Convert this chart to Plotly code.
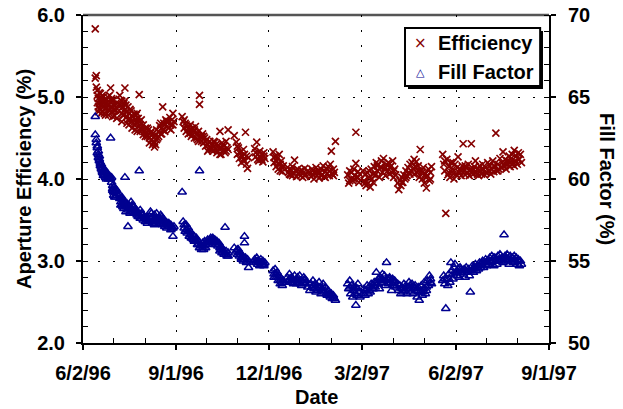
import pandas as pd
import plotly.graph_objects as go

start_date = "1996-06-02"

# Days since 6/2/96 for each measurement
day_offset = [
    12, 12, 13, 13, 14, 14, 15, 15, 16, 16, 17, 17, 18, 18, 19, 19, 20, 20, 21, 21,
    22, 23, 23, 24, 25, 26, 27, 27, 28, 29, 29, 30, 30, 31, 31, 32, 33,
    36, 36, 37, 38, 38, 39, 40, 40, 41, 41, 42, 43, 44, 44, 45, 46, 47, 47, 48, 49,
    50, 50, 51, 52, 53, 54, 55, 55, 56, 57,
    58, 59, 60, 61, 62, 63, 64, 65, 66, 67, 68, 69, 70, 70, 71, 72, 73, 74, 75, 76,
    77, 78, 78, 79, 80, 81, 82, 83, 84, 85, 86, 87, 88, 89,
    97, 98, 99, 100, 101, 102, 103, 104, 105, 106, 107, 108, 109, 110, 111, 112, 113,
    114, 114, 115, 116, 117, 118, 119, 120, 121, 122, 123, 124, 125, 126, 127, 128,
    129, 130, 131, 132, 133, 134, 134, 135, 136, 137, 138, 139, 140, 141, 142,
    148, 150, 151, 152, 153, 154, 155, 156, 157, 158, 158, 159, 160, 161, 162,
    168, 169, 170, 171, 172, 173, 174, 175, 176, 177, 178,
    186, 187, 188, 189, 190, 191, 192, 193, 194, 195, 196,
    200, 201, 202, 203, 204, 205, 206, 207, 208, 209, 210, 211, 212, 213, 214, 215,
    216, 217, 218, 220, 222, 223, 224, 225, 226, 227, 228, 229, 230, 231, 232, 233,
    234, 235, 236, 237, 238, 239, 240, 241, 242, 243, 244, 245, 246, 247,
    259, 260, 261, 262, 263, 264, 265, 266, 267, 267, 268, 269, 270, 271,
    274, 275, 276, 277, 278, 279, 280, 281, 282, 283, 284, 285, 286, 287, 288, 289,
    290, 291, 292, 293, 294, 295, 296, 297, 298, 299, 300, 301, 302, 303, 304, 305, 306,
    308, 309, 310, 311, 312, 313, 314, 315, 316, 317, 318, 319, 320, 321, 322, 323,
    324, 325, 326, 327, 328, 329, 330, 331, 332, 333, 334, 335, 336, 337, 338, 339,
    340, 341,
    352, 353, 354, 355, 356, 357, 358, 359, 360, 361, 362, 363, 364, 365, 366, 367,
    368, 369, 370, 371, 372, 373, 374, 375, 376, 377, 378, 379, 380, 381, 382, 383,
    384, 385, 386, 387, 388, 389, 390, 391, 392, 393, 394, 395, 396, 397, 398, 399,
    400, 401, 402, 403, 404, 405, 406, 407, 408, 409, 410, 411, 412, 413, 414, 415,
    416, 417, 418, 419, 420, 421, 422, 423, 424, 425, 426, 427, 428, 429,
    # second reading on the same days (dense parts of the bands)
    14, 15, 16, 17, 18, 19, 20, 21, 22, 24, 25, 26, 28, 29, 30, 31, 32, 33,
    37, 38, 39, 41, 42, 43, 45, 46, 48, 49, 51, 52, 53, 54, 56, 57,
    59, 61, 63, 65, 67, 68, 69, 71, 72, 74, 76, 77, 79, 80, 82, 84, 86, 88,
    99, 101, 103, 105, 107, 109, 111, 113, 116, 118, 120, 122, 124, 126, 128, 130, 132, 135, 137, 140, 142,
    151, 153, 155, 157, 160, 169, 171, 173, 175, 177,
    187, 189, 191, 193, 195, 202, 205, 209, 213, 217, 225, 229, 233, 237, 241, 245,
    261, 265, 269, 276, 280, 284, 288, 292, 296, 300, 304, 312, 316, 320, 324, 328, 332, 336, 340,
    354, 358, 362, 366, 370, 374, 378, 382, 386, 390, 394, 398, 402, 406, 410, 414, 418, 422, 426,
]

efficiency = [
    5.83, 5.23, 5.26, 5.12, 5.02, 4.93, 4.98, 4.88, 5.05, 4.92, 4.95, 4.85, 4.99, 4.90, 4.94, 4.82, 5.00, 4.88, 4.95, 4.80,
    4.92, 4.97, 4.86, 4.90, 4.78, 5.02, 5.11, 4.93, 4.88, 4.82, 4.95, 4.91, 4.85, 4.77, 4.89, 4.84, 4.74,
    5.02, 4.90, 4.86, 4.95, 4.80, 4.88, 4.92, 4.78, 5.11, 4.85, 4.82, 4.76, 4.88, 4.72, 4.80, 4.74, 4.83, 4.70, 4.77, 4.68,
    4.79, 4.66, 4.73, 4.69, 4.80, 4.64, 5.03, 4.70, 4.66, 4.62,
    4.60, 4.66, 4.58, 4.62, 4.55, 4.52, 4.60, 4.50, 4.56, 4.48, 4.55, 4.44, 4.39, 4.45, 4.53, 4.60, 4.50, 4.58, 4.65, 4.55,
    4.62, 4.88, 4.60, 4.68, 4.58, 4.72, 4.64, 4.70, 4.62, 4.75, 4.66, 4.72, 4.80, 4.70,
    4.76, 4.70, 4.62, 4.68, 4.58, 4.64, 4.55, 4.60, 4.66, 4.52, 4.62, 4.58, 4.50, 4.64, 4.55, 4.48, 4.58,
    5.02, 4.91, 4.52, 4.46, 4.55, 4.44, 4.50, 4.40, 4.48, 4.42, 4.36, 4.46, 4.38, 4.43, 4.34, 4.40,
    4.45, 4.36, 4.32, 4.41, 4.37, 4.58, 4.30, 4.38, 4.44, 4.35, 4.40, 4.32, 4.46, 4.38, 4.60,
    4.53, 4.45, 4.30, 4.38, 4.25, 4.33, 4.20, 4.28, 4.36, 4.22, 4.30, 4.57, 4.18, 4.13, 4.26,
    4.37, 4.27, 4.45, 4.30, 4.22, 4.34, 4.26, 4.30, 4.21, 4.32, 4.25,
    4.33, 4.20, 4.28, 4.15, 4.25, 4.18, 4.30, 4.10, 4.22, 4.09, 4.16,
    4.14, 4.08, 4.12, 4.05, 4.11, 4.15, 4.07, 4.23, 4.10, 4.03, 4.12, 4.06, 4.09, 4.04, 4.11, 4.02,
    4.08, 4.13, 4.05, 4.10, 4.07, 4.03, 4.12, 4.05, 4.00, 4.09, 4.14, 4.04, 4.10, 4.01, 4.08, 4.12,
    4.05, 4.16, 4.03, 4.09, 4.13, 4.07, 4.15, 4.10, 4.18, 4.34, 4.06, 4.12, 4.08, 4.46,
    4.05, 3.95, 4.10, 4.00, 4.08, 3.98, 4.12, 4.04, 4.57, 4.19, 4.02, 4.09, 3.96, 4.06,
    4.10, 3.98, 4.05, 3.92, 4.08, 3.95, 4.02, 3.90, 4.12, 4.00, 4.06, 4.15, 4.05, 4.20, 4.10, 4.18,
    4.02, 4.14, 4.22, 4.08, 4.25, 4.12, 4.04, 4.18, 4.10, 4.20, 4.06, 4.15, 4.08, 4.22, 4.02, 4.12, 4.05,
    3.95, 3.87, 3.98, 3.92, 4.02, 3.96, 4.05, 4.00, 4.10, 4.04, 4.14, 4.08, 4.18, 4.10, 4.20, 4.12,
    4.24, 4.15, 4.21, 4.08, 4.16, 4.02, 4.36, 4.10, 4.00, 4.14, 3.95, 4.06, 3.89, 4.04, 4.12, 3.98,
    4.08, 4.15,
    4.30, 4.18, 4.10, 3.58, 4.24, 4.05, 4.15, 4.02, 4.20, 4.08, 4.12, 4.00, 4.18, 4.06, 4.14, 4.27,
    4.08, 4.12, 4.04, 4.16, 4.43, 4.10, 4.05, 4.14, 4.08, 4.18, 4.04, 4.12, 4.43, 4.10, 4.06, 4.15,
    4.22, 4.08, 4.12, 4.04, 4.16, 4.10, 4.06, 4.18, 4.12, 4.05, 4.14, 4.08, 4.20, 4.10, 4.16, 4.06,
    4.12, 4.22, 4.09, 4.15, 4.56, 4.10, 4.18, 4.12, 4.25, 4.14, 4.20, 4.33, 4.16, 4.24, 4.12, 4.22,
    4.18, 4.28, 4.15, 4.25, 4.30, 4.20, 4.35, 4.22, 4.28, 4.18, 4.32, 4.24, 4.30, 4.20,
    # second reading on the same days
    5.08, 4.82, 4.86, 5.04, 4.80, 5.02, 4.94, 4.86, 4.78, 5.00, 4.92, 4.84, 4.98, 4.76, 4.97, 4.83, 4.92, 4.86,
    4.96, 4.70, 4.78, 4.95, 4.90, 4.68, 4.66, 4.85, 4.62, 4.76, 4.60, 4.78, 4.58, 4.74, 4.58, 4.72,
    4.54, 4.52, 4.62, 4.44, 4.58, 4.42, 4.50, 4.42, 4.48, 4.52, 4.68, 4.55, 4.60, 4.66, 4.70, 4.70, 4.60, 4.66,
    4.72, 4.66, 4.62, 4.56, 4.54, 4.60, 4.50, 4.46, 4.52, 4.52, 4.46, 4.34, 4.38, 4.36, 4.46, 4.42, 4.34, 4.30, 4.42, 4.34, 4.36,
    4.40, 4.32, 4.28, 4.24, 4.28, 4.32, 4.24, 4.28, 4.24, 4.28,
    4.26, 4.22, 4.12, 4.18, 4.14, 4.06, 4.04, 4.10, 4.09, 4.04, 4.10, 4.08, 4.04, 4.02, 4.04, 4.04,
    3.98, 4.00, 4.02, 3.95, 4.10, 3.96, 4.16, 4.14, 4.14, 4.14, 4.10, 3.96, 4.02, 4.06, 4.06, 4.10, 4.08, 4.02, 4.00,
    4.22, 4.08, 4.20, 4.04, 4.10, 4.16, 4.10, 4.12, 4.06, 4.12, 4.08, 4.10, 4.16, 4.10, 4.14, 4.18, 4.20, 4.16, 4.24,
]

fill_factor = [
    63.8, 62.7, 62.4, 62.2, 61.9, 61.6, 61.7, 61.3, 61.4, 61.1, 61.0, 60.8, 60.9, 60.6, 60.7, 60.5, 60.4, 60.3, 60.6, 60.2,
    60.4, 60.2, 60.0, 60.3, 60.1, 60.2, 62.5, 60.0, 60.1, 59.4, 59.6, 59.5, 59.2, 59.3, 58.9, 59.4, 59.1,
    59.0, 58.8, 58.6, 58.9, 58.4, 58.7, 58.5, 58.2, 60.1, 58.6, 58.3, 58.5, 57.1, 58.1, 58.4, 58.0, 58.6, 58.2, 58.4, 58.1,
    58.3, 57.9, 58.2, 57.9, 58.0, 57.7, 60.5, 57.8, 58.1, 57.6,
    57.8, 57.5, 57.7, 57.4, 57.6, 57.3, 57.5, 57.7, 58.0, 57.6, 57.3, 57.5, 57.2, 57.8, 57.5, 57.9, 57.4, 57.6, 57.3, 57.8,
    57.5, 57.2, 57.6, 57.3, 57.1, 57.4, 57.0, 57.3, 57.1, 57.2, 56.9, 57.0, 56.5, 57.1,
    59.2, 57.4, 57.0, 56.8, 57.2, 56.7, 57.0, 56.5, 56.8, 56.4, 56.6, 56.3, 56.5, 56.2, 56.4, 56.0, 56.2,
    60.5, 55.8, 56.0, 55.7, 56.1, 55.9, 56.2, 55.8, 56.1, 56.3, 56.0, 56.3, 56.4, 56.2, 56.4, 56.1,
    56.3, 56.0, 56.2, 55.9, 56.1, 55.8, 55.6, 55.9, 55.5, 55.7, 55.4, 57.05, 55.6, 55.3, 55.5,
    55.8, 55.6, 55.4, 55.7, 55.3, 55.5, 55.1, 55.3, 55.0, 56.5, 56.1, 55.2, 54.9, 55.1, 54.6,
    55.1, 54.9, 55.2, 54.8, 55.0, 54.7, 55.1, 54.8, 55.0, 54.7, 54.9,
    54.4, 54.2, 54.5, 54.0, 54.3, 53.8, 54.1, 53.6, 53.9, 53.5, 53.8,
    54.0, 53.8, 54.2, 53.7, 54.0, 53.9, 53.6, 54.1, 53.8, 53.6, 54.0, 53.7, 54.1, 53.8, 53.5, 53.7,
    54.0, 53.8, 53.6, 53.4, 53.2, 53.6, 53.4, 53.8, 53.3, 53.6, 53.1, 53.5, 53.2, 53.7, 53.4, 53.0,
    53.3, 53.6, 53.1, 53.4, 53.0, 52.9, 53.2, 53.0, 52.8, 53.0, 52.7, 52.9, 52.7, 52.6,
    53.6, 53.3, 53.8, 53.0, 53.5, 52.8, 53.2, 53.0, 52.3, 53.4, 52.9, 53.6, 53.1, 52.8,
    53.0, 53.3, 52.9, 53.2, 53.5, 53.0, 53.4, 53.1, 53.6, 53.3, 53.5, 53.7, 53.4, 54.3, 53.6, 53.9,
    53.3, 54.0, 53.7, 54.2, 53.8, 54.1, 53.5, 54.9, 53.9, 53.6, 54.0, 53.7, 53.2, 53.9, 53.5, 53.8, 53.4,
    53.6, 53.2, 53.5, 53.0, 53.4, 53.1, 53.6, 53.2, 53.5, 53.0, 53.4, 53.7, 53.3, 53.1, 53.6, 53.0,
    53.3, 53.5, 53.2, 52.8, 53.4, 52.6, 53.1, 53.5, 52.9, 53.3, 53.7, 53.0, 53.4, 53.8, 53.5, 54.1,
    53.9, 53.6,
    53.8, 54.1, 53.6, 52.1, 53.9, 53.5, 54.2, 53.7, 54.9, 54.4, 53.9, 54.6, 54.8, 54.3, 54.1, 54.5,
    54.0, 54.6, 54.3, 54.4, 54.2, 54.5, 54.0, 54.6, 54.3, 54.5, 54.1, 53.1, 54.4, 54.7, 54.3, 54.6,
    54.8, 54.4, 54.7, 54.5, 54.9, 54.6, 54.8, 55.0, 54.6, 54.9, 55.1, 54.7, 55.0, 54.8, 55.2, 54.9,
    55.3, 55.0, 54.7, 55.2, 55.0, 54.8, 55.3, 55.1, 55.4, 55.0, 55.2, 54.9, 56.6, 55.3, 55.0, 55.4,
    55.1, 54.8, 55.3, 55.0, 55.2, 54.9, 55.3, 55.0, 55.2, 54.8, 55.1, 54.7, 55.0, 54.8,
    # second reading on the same days
    62.0, 61.5, 61.2, 60.9, 60.7, 60.4, 60.2, 60.5, 60.1, 60.2, 60.0, 60.1, 59.8, 59.3, 59.0, 59.2, 58.9, 59.3,
    58.4, 58.8, 58.3, 58.4, 58.0, 58.3, 58.2, 57.9, 58.0, 58.3, 58.0, 58.1, 57.8, 57.9, 57.6, 57.9,
    57.8, 57.6, 57.5, 57.4, 57.9, 57.7, 57.3, 57.3, 57.6, 57.4, 57.5, 57.7, 57.5, 57.2, 57.2, 57.3, 57.2, 57.0,
    57.2, 56.9, 56.8, 56.6, 56.4, 56.2, 56.2, 56.0, 55.9, 55.7, 56.0, 56.1, 56.2, 56.3, 56.3, 56.2, 56.0, 55.7, 55.6, 55.4, 55.3,
    55.7, 55.5, 55.2, 55.1, 55.0, 55.0, 55.0, 54.9, 54.9, 54.8,
    54.0, 54.2, 54.0, 53.8, 53.7, 53.9, 53.7, 53.9, 53.6, 53.9, 53.5, 53.3, 53.2, 53.2, 52.9, 52.8,
    53.4, 53.4, 53.3, 53.2, 53.2, 53.3, 53.8, 53.9, 53.8, 53.9, 53.7, 53.3, 53.3, 53.5, 53.4, 53.2, 53.1, 53.2, 53.7,
    53.9, 53.9, 54.2, 54.3, 54.5, 54.4, 54.4, 54.5, 54.6, 54.9, 54.9, 55.0, 55.2, 55.0, 55.1, 55.2, 55.1, 55.1, 55.0,
]

x_tick_vals = ["1996-06-02", "1996-09-01", "1996-12-01", "1997-03-02", "1997-06-02", "1997-09-01"]
x_tick_text = ["6/2/96", "9/1/96", "12/1/96", "3/2/97", "6/2/97", "9/1/97"]
x_minor_vals = ["1996-07-02", "1996-08-02", "1996-10-01", "1996-10-31", "1996-12-31",
                "1997-01-31", "1997-04-02", "1997-05-02", "1997-07-02", "1997-08-01"]
eff_ticks = [2.0, 3.0, 4.0, 5.0, 6.0]
ff_ticks = [50, 55, 60, 65, 70]
series_names = ["Efficiency", "Fill Factor"]

dates = pd.to_datetime(start_date) + pd.to_timedelta(day_offset, unit="D")

RED = "#850000"
BLUE = "#000090"
FONT = "Liberation Sans, Arial, sans-serif"

fig = go.Figure()
fig.add_trace(go.Scatter(
    x=dates, y=efficiency, mode="markers", name=series_names[0],
    marker=dict(symbol="x-thin-open", size=7, line=dict(color=RED, width=1.7), color=RED),
    yaxis="y", xaxis="x",
))
fig.add_trace(go.Scatter(
    x=dates, y=fill_factor, mode="markers", name=series_names[1],
    marker=dict(symbol="triangle-up-open", size=7.5, color=BLUE, line=dict(color=BLUE, width=1.5)),
    yaxis="y2", xaxis="x",
))

tickfont = dict(family=FONT, size=20, color="black", weight="bold")
grid_dash = "2px,13px"

fig.update_layout(
    width=623, height=409,
    margin=dict(l=83, r=74, t=15, b=66, autoexpand=False),
    paper_bgcolor="white", plot_bgcolor="white",
    font=dict(family=FONT, color="black"),
    showlegend=False,
    xaxis=dict(
        type="date", range=["1996-06-02", "1997-09-01"], automargin=False,
        tickmode="array", tickvals=x_tick_vals, ticktext=x_tick_text,
        ticks="outside", ticklen=5, tickwidth=1.5, tickcolor="black",
        showline=True, linecolor="black", linewidth=2,
        showgrid=True, gridcolor="black", gridwidth=1, griddash=grid_dash,
        tickfont=tickfont, ticklabelstandoff=6,
        minor=dict(tickmode="array", tickvals=x_minor_vals, ticks="inside", ticklen=5,
                   tickwidth=1.2, tickcolor="black", showgrid=False),
        zeroline=False,
    ),
    yaxis=dict(
        range=[2.0, 6.0], tickmode="array", tickvals=eff_ticks, automargin=False,
        ticktext=[f"{v:.1f}" for v in eff_ticks],
        ticks="outside", ticklen=5, tickwidth=1.5, tickcolor="black",
        showline=True, linecolor="black", linewidth=2,
        showgrid=True, gridcolor="black", gridwidth=1, griddash=grid_dash,
        tickfont=tickfont, ticklabelstandoff=7,
        minor=dict(dtick=0.2, ticks="inside", ticklen=5, tickwidth=1.2, tickcolor="black", showgrid=False),
        zeroline=False,
    ),
    yaxis2=dict(
        range=[50, 70], overlaying="y", side="right", anchor="x", automargin=False,
        tickmode="array", tickvals=ff_ticks,
        ticks="outside", ticklen=5, tickwidth=1.5, tickcolor="black",
        showline=True, linecolor="black", linewidth=2,
        showgrid=False, tickfont=tickfont, ticklabelstandoff=8,
        minor=dict(dtick=1, ticks="inside", ticklen=5, tickwidth=1.2, tickcolor="black", showgrid=False),
        zeroline=False,
    ),
)

# top frame line
fig.add_shape(type="line", xref="paper", yref="paper", x0=0, x1=1, y0=1, y1=1,
              line=dict(color="#555555", width=2.5), layer="below")

# Legend box (with drop shadow), drawn as shapes + text
fig.add_shape(type="rect", xref="paper", yref="paper",
              x0=0.6974, x1=0.9871, y0=0.7744, y1=0.9512,
              line=dict(width=0), fillcolor="black", layer="above")
fig.add_shape(type="rect", xref="paper", yref="paper",
              x0=0.691, x1=0.981, y0=0.7835, y1=0.9604,
              line=dict(color="black", width=2), fillcolor="white", layer="above")
fig.add_annotation(text="×", xref="paper", yref="paper", x=0.7253, y=0.9146,
                   xanchor="center", yanchor="middle", showarrow=False,
                   font=dict(family="DejaVu Sans", size=15, color=RED))
fig.add_annotation(text="△", xref="paper", yref="paper", x=0.7253, y=0.8235,
                   xanchor="center", yanchor="middle", showarrow=False,
                   font=dict(family="DejaVu Sans", size=11, color=BLUE, weight="bold"))
fig.add_annotation(text=f"<b>{series_names[0]}</b>", xref="paper", yref="paper",
                   x=0.757, y=0.9146, xanchor="left", yanchor="middle", showarrow=False,
                   font=dict(family=FONT, size=20, color="black"))
fig.add_annotation(text=f"<b>{series_names[1]}</b>", xref="paper", yref="paper",
                   x=0.757, y=0.826, xanchor="left", yanchor="middle", showarrow=False,
                   font=dict(family=FONT, size=20, color="black"))

fig.add_annotation(text="<b>Aperture Efficiency (%)</b>", xref="paper", yref="paper",
                   x=-0.1266, y=0.5, xanchor="center", yanchor="middle", textangle=-90,
                   showarrow=False, font=dict(family=FONT, size=20, color="black"))
fig.add_annotation(text="<b>Fill Factor (%)</b>", xref="paper", yref="paper",
                   x=1.1245, y=0.5, xanchor="center", yanchor="middle", textangle=90,
                   showarrow=False, font=dict(family=FONT, size=20, color="black"))
fig.add_annotation(text="<b>Date</b>", xref="paper", yref="paper",
                   x=0.5, y=-0.1646, xanchor="center", yanchor="middle", showarrow=False,
                   font=dict(family=FONT, size=20, color="black"))

fig.write_html("out.html")
